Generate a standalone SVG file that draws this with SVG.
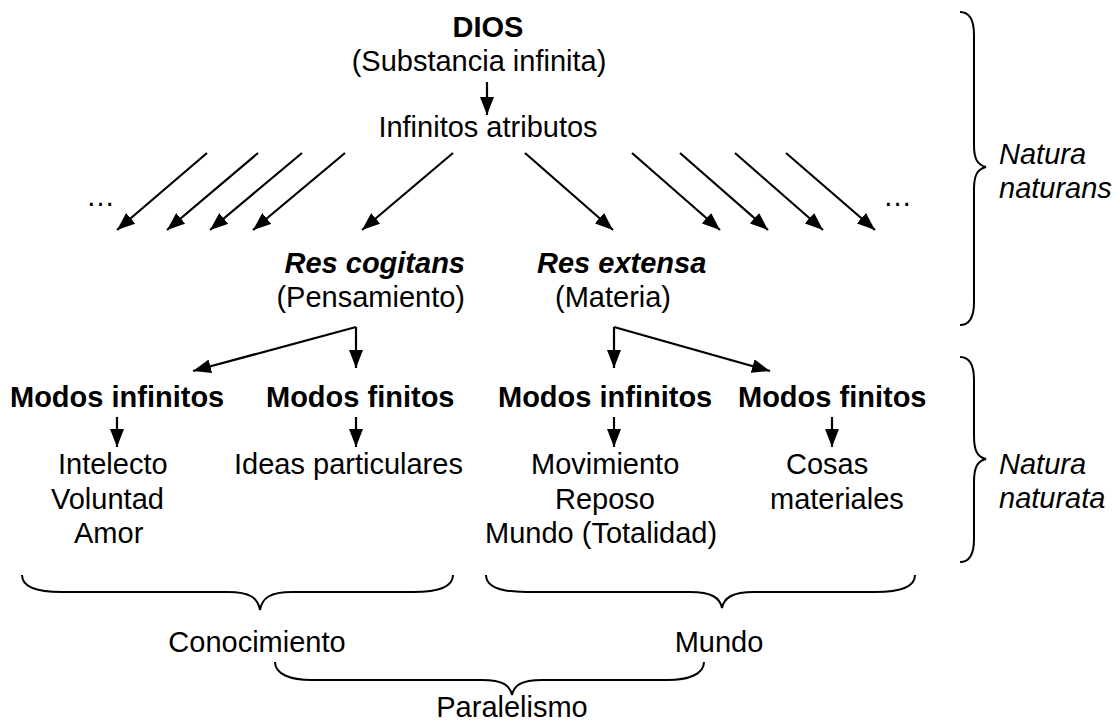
<svg xmlns="http://www.w3.org/2000/svg" width="1118" height="723" viewBox="0 0 1118 723">
<defs>
<style>
text{font-family:"Liberation Sans",Arial,sans-serif;font-size:29px;fill:#000}
.b{font-weight:bold}
.bi{font-weight:bold;font-style:italic}
.i{font-style:italic}
.m{text-anchor:middle}
.e{text-anchor:end}
.ar{stroke:#000;stroke-width:2.2;fill:none;marker-end:url(#ah)}
.br{stroke:#000;stroke-width:2;fill:none}
</style>
<marker id="ah" viewBox="0 0 18 14" refX="18" refY="7" markerWidth="18" markerHeight="14" orient="auto" markerUnits="userSpaceOnUse"><path d="M0,0 L18,7 L0,14 z" fill="#000"/></marker>
</defs>
<rect width="1118" height="723" fill="#fff"/>
<g id="dios"><text class="b m" x="488" y="37">DIOS</text><text class="m" x="479" y="71">(Substancia infinita)</text></g>
<g id="atributos"><text class="m" x="488" y="137">Infinitos atributos</text></g>
<g id="ellipsis-left"><text x="86" y="206">…</text></g>
<g id="ellipsis-right"><text x="883" y="206">…</text></g>
<g id="res-cogitans"><text class="bi e" x="465" y="273">Res cogitans</text><text class="e" x="465" y="307">(Pensamiento)</text></g>
<g id="res-extensa"><text class="bi" x="537" y="273">Res extensa</text><text x="555" y="307">(Materia)</text></g>
<g id="modos-inf-1"><text class="b" x="10" y="407">Modos infinitos</text></g>
<g id="modos-fin-1"><text class="b" x="266" y="407">Modos finitos</text></g>
<g id="modos-inf-2"><text class="b" x="498" y="407">Modos infinitos</text></g>
<g id="modos-fin-2"><text class="b" x="738" y="407">Modos finitos</text></g>
<g id="list-1"><text x="58" y="474">Intelecto</text><text x="51" y="509">Voluntad</text><text x="74" y="543">Amor</text></g>
<g id="list-2"><text x="234" y="474">Ideas particulares</text></g>
<g id="list-3"><text x="531" y="474">Movimiento</text><text x="555" y="509">Reposo</text><text x="485" y="543">Mundo (Totalidad)</text></g>
<g id="list-4"><text x="786" y="474">Cosas</text><text x="770" y="509">materiales</text></g>
<g id="conocimiento"><text class="m" x="257" y="652">Conocimiento</text></g>
<g id="mundo"><text class="m" x="719" y="652">Mundo</text></g>
<g id="paralelismo"><text class="m" x="512" y="717">Paralelismo</text></g>
<g id="natura-naturans"><text class="i" x="999" y="164">Natura</text><text class="i" x="999" y="198">naturans</text></g>
<g id="natura-naturata"><text class="i" x="999" y="474">Natura</text><text class="i" x="999" y="508">naturata</text></g>
<g id="connectors">
<path class="ar" d="M487,82 L487,115"/>
<path class="ar" d="M207,153 L117,230"/>
<path class="ar" d="M258,153 L167,230"/>
<path class="ar" d="M302,153 L210,230"/>
<path class="ar" d="M345,153 L253,230"/>
<path class="ar" d="M453,153 L362,230"/>
<path class="ar" d="M525,153 L613,230"/>
<path class="ar" d="M632,153 L720,230"/>
<path class="ar" d="M680,153 L768,230"/>
<path class="ar" d="M735,153 L823,230"/>
<path class="ar" d="M786,153 L875,230"/>
<path class="ar" d="M356,327 L356,368"/>
<path class="ar" d="M356,327 L193,371"/>
<path class="ar" d="M614,327 L614,368"/>
<path class="ar" d="M614,327 L770,371"/>
<path class="ar" d="M117,417 L117,447"/>
<path class="ar" d="M356,417 L356,447"/>
<path class="ar" d="M614,417 L614,447"/>
<path class="ar" d="M832,417 L832,447"/>
</g>
<g id="braces">
<path class="br" d="M960,12 C970,12 974,20 974,35 L974,145 C974,158 977,165 986,167 C977,169 974,176 974,189 L974,302 C974,317 970,325 960,325"/>
<path class="br" d="M960,357 C970,357 974,365 974,380 L974,436 C974,450 977,457 986,459 C977,461 974,468 974,482 L974,539 C974,554 970,562 960,562"/>
<path class="br" d="M22,575 C22,587 38,592 62,592 L228,592 C250,592 258,598 260,610 C262,598 270,592 292,592 L413,592 C437,592 453,587 453,575"/>
<path class="br" d="M486,575 C486,587 502,592 526,592 L690,592 C712,592 720,598 722,608 C724,598 732,592 754,592 L875,592 C899,592 915,587 915,575"/>
<path class="br" d="M275,662 C275,674 290,680 312,680 L482,680 C504,680 510,686 512,695 C514,686 520,680 542,680 L667,680 C689,680 704,674 704,662"/>
</g>
</svg>
